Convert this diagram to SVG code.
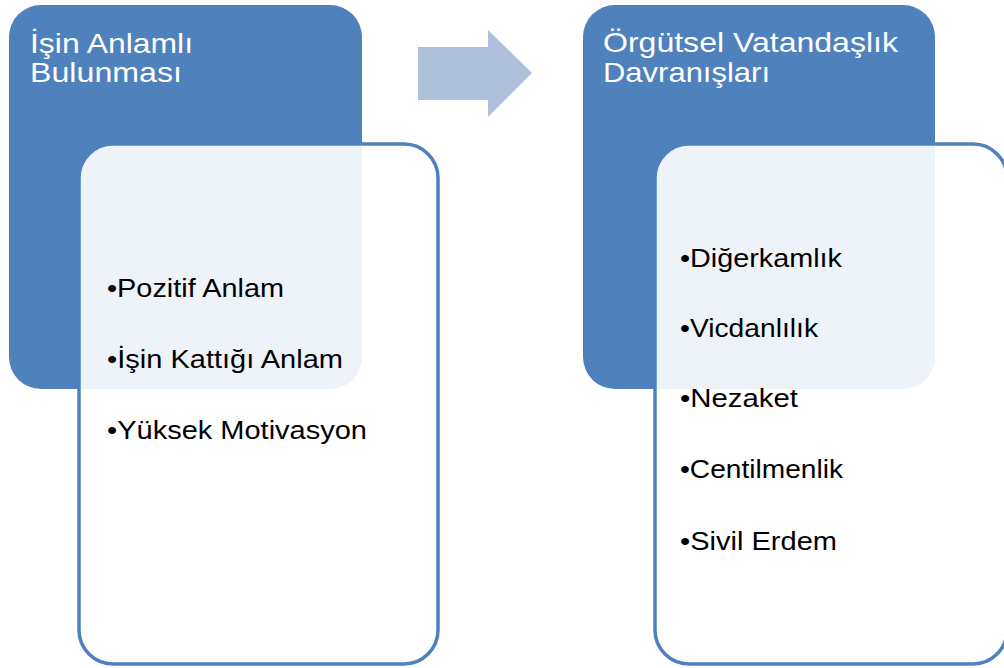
<svg xmlns="http://www.w3.org/2000/svg" width="1004" height="668" viewBox="0 0 1004 668">
<style>
.blue{fill:#4F81BD}
.card{fill:#FFFFFF;fill-opacity:0.9;stroke:#4F81BD;stroke-width:3.5}
.title{font-family:"Liberation Sans",Arial,sans-serif;font-size:28.5px;fill:#FFFFFF}
.item{font-family:"Liberation Sans",Arial,sans-serif;font-size:26px;fill:#000000}
</style>
<rect width="1004" height="668" fill="#FFFFFF"/>
<g id="node-left-header">
<rect class="blue" x="9" y="5" width="353" height="384" rx="32" ry="32"/>
<text class="title" x="30" y="53" textLength="163" lengthAdjust="spacingAndGlyphs">İşin Anlamlı</text>
<text class="title" x="30" y="82" textLength="152" lengthAdjust="spacingAndGlyphs">Bulunması</text>
</g>
<g id="node-right-header">
<rect class="blue" x="583" y="5" width="352" height="384" rx="32" ry="32"/>
<text class="title" x="603" y="52" textLength="295" lengthAdjust="spacingAndGlyphs">Örgütsel Vatandaşlık</text>
<text class="title" x="603" y="82" textLength="167" lengthAdjust="spacingAndGlyphs">Davranışları</text>
</g>
<g id="connectors">
<polygon points="418,47 488,47 488,30 532,73 488,117 488,100 418,100" fill="#AEC0DC"/>
</g>
<g id="node-left-list">
<rect class="card" x="79" y="144" width="359" height="520" rx="34" ry="34"/>
<text class="item" x="107" y="297" textLength="177" lengthAdjust="spacingAndGlyphs">•Pozitif Anlam</text>
<text class="item" x="107" y="368" textLength="236" lengthAdjust="spacingAndGlyphs">•İşin Kattığı Anlam</text>
<text class="item" x="107" y="439" textLength="260" lengthAdjust="spacingAndGlyphs">•Yüksek Motivasyon</text>
</g>
<g id="node-right-list">
<rect class="card" x="655" y="144" width="352" height="520" rx="34" ry="34"/>
<text class="item" x="680" y="267" textLength="162" lengthAdjust="spacingAndGlyphs">•Diğerkamlık</text>
<text class="item" x="680" y="337" textLength="138" lengthAdjust="spacingAndGlyphs">•Vicdanlılık</text>
<text class="item" x="680" y="407" textLength="118" lengthAdjust="spacingAndGlyphs">•Nezaket</text>
<text class="item" x="680" y="478" textLength="163" lengthAdjust="spacingAndGlyphs">•Centilmenlik</text>
<text class="item" x="680" y="550" textLength="157" lengthAdjust="spacingAndGlyphs">•Sivil Erdem</text>
</g>
</svg>
